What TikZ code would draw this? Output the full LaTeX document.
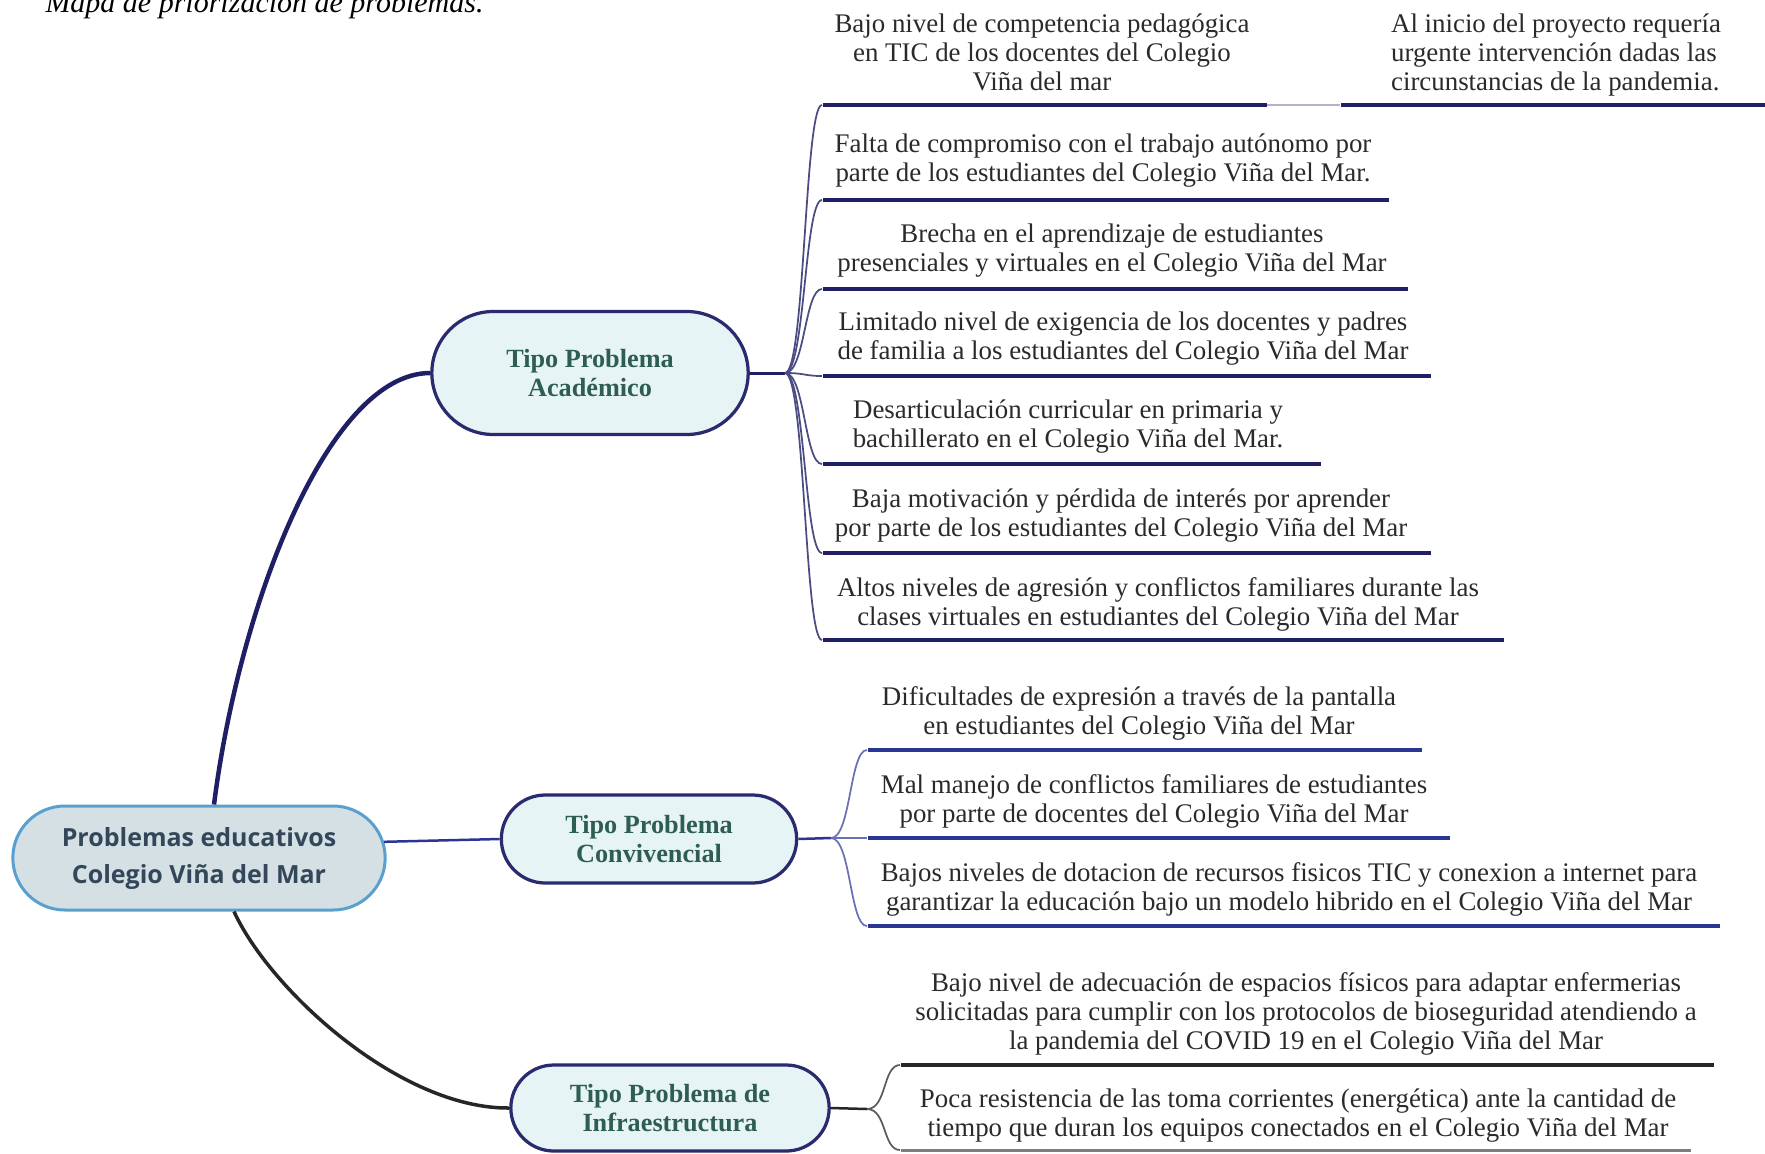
\documentclass[tikz,border=0pt]{standalone}
\usepackage{fontspec}
\setmainfont{Liberation Serif}
\newfontfamily\rootfont{Open Sans}
\usetikzlibrary{shapes.misc}
\definecolor{navy}{HTML}{1F1F66}
\definecolor{convblue}{HTML}{2B3593}
\definecolor{infragray}{HTML}{262626}
\definecolor{rootfill}{HTML}{D4E0E4}
\definecolor{rootline}{HTML}{5AA0CF}
\definecolor{catfill}{HTML}{E7F4F6}
\definecolor{catline}{HTML}{2A2A6E}
\definecolor{cattext}{HTML}{2D5E50}
\definecolor{roottext}{HTML}{34475A}
\definecolor{leaftext}{HTML}{2A2A2A}

\begin{document}
\begin{tikzpicture}[x=0.4pt,y=-0.4pt,
  root node/.style={rounded rectangle,draw=rootline,line width=1.2pt,fill=rootfill,text=roottext,align=center,font=\rootfont\bfseries\fontsize{10}{14.8}\selectfont},
  cat node/.style={rounded rectangle,draw=catline,line width=1.3pt,fill=catfill,text=cattext,align=center,font=\bfseries\fontsize{10.5}{11.6}\selectfont},
  leaf node/.style={align=center,inner sep=0pt,text=leaftext,font=\fontsize{10.75}{11.6}\selectfont},
  bar node/.style={anchor=west,inner sep=0pt,minimum height=1.6pt,fill=navy},
  twig/.style={out=0,in=180,out distance=8pt,in distance=7pt}]

  \useasboundingbox (0,0) rectangle (1765,1153);
  \clip (0,0) rectangle (1765,1153);

  \node[font=\itshape\fontsize{12}{14}\selectfont,anchor=base west,inner sep=0pt] (title) at (45,12.5) {Mapa de priorización de problemas.};

  \node[root node] (root) [minimum width=155.6pt,minimum height=41.6pt] at (199,858) {Problemas educativos\\Colegio Viña del Mar};
  \node[cat node] (aca) [minimum width=133.2pt,minimum height=49.2pt] at (590,373) {Tipo Problema\\Académico};
  \node[cat node] (conv) [minimum width=124.8pt,minimum height=35.2pt] at (649,839) {Tipo Problema\\Convivencial};
  \node[cat node] (infra) [minimum width=134pt,minimum height=34.4pt] at (670,1108) {Tipo Problema de\\Infraestructura};

  \node[leaf node] (a1t) at (1042,52) {Bajo nivel de competencia pedagógica\\en TIC de los docentes del Colegio\\Viña del mar};
  \node[leaf node,align=left] (a1bt) at (1556,55) {Al inicio del proyecto requería\\urgente intervención dadas las\\circunstancias de la pandemia.};
  \node[leaf node] (a2t) at (1103,161) {Falta de compromiso con el trabajo autónomo por\\parte de los estudiantes del Colegio Viña del Mar.};
  \node[leaf node] (a3t) at (1112,251) {Brecha en el aprendizaje de estudiantes\\presenciales y virtuales en el Colegio Viña del Mar};
  \node[leaf node] (a4t) at (1123,339) {Limitado nivel de exigencia de los docentes y padres\\de familia a los estudiantes del Colegio Viña del Mar};
  \node[leaf node] (a5t) at (1068,427) {Desarticulación curricular en primaria y\\bachillerato en el Colegio Viña del Mar.};
  \node[leaf node] (a6t) at (1121,516) {Baja motivación y pérdida de interés por aprender\\por parte de los estudiantes del Colegio Viña del Mar};
  \node[leaf node] (a7t) at (1158,604) {Altos niveles de agresión y conflictos familiares durante las\\clases virtuales en estudiantes del Colegio Viña del Mar};
  \node[leaf node] (c1t) at (1139,713) {Dificultades de expresión a través de la pantalla\\en estudiantes del Colegio Viña del Mar};
  \node[leaf node] (c2t) at (1154,801) {Mal manejo de conflictos familiares de estudiantes\\por parte de docentes del Colegio Viña del Mar};
  \node[leaf node] (c3t) at (1289,889) {Bajos niveles de dotacion de recursos fisicos TIC y conexion a internet para\\garantizar la educación bajo un modelo hibrido en el Colegio Viña del Mar};
  \node[leaf node] (i1t) at (1306,1014) {Bajo nivel de adecuación de espacios físicos para adaptar enfermerias\\solicitadas para cumplir con los protocolos de bioseguridad atendiendo a\\la pandemia del COVID 19 en el Colegio Viña del Mar};
  \node[leaf node] (i2t) at (1298,1116) {Poca resistencia de las toma corrientes (energética) ante la cantidad de\\tiempo que duran los equipos conectados en el Colegio Viña del Mar};

  \node[bar node] (a1) [minimum width=177.6pt] at (822,105) {};
  \node[bar node] (a1b) [minimum width=170pt] at (1340,105) {};
  \node[bar node] (a2) [minimum width=226.4pt] at (822,200) {};
  \node[bar node] (a3) [minimum width=234pt] at (822,289) {};
  \node[bar node] (a4) [minimum width=243.2pt] at (822,376) {};
  \node[bar node] (a5) [minimum width=199.2pt] at (822,464) {};
  \node[bar node] (a6) [minimum width=243.2pt] at (822,553) {};
  \node[bar node] (a7) [minimum width=272.4pt] at (822,640) {};
  \node[bar node] (c1) [minimum width=221.6pt,fill=convblue] at (867,750) {};
  \node[bar node] (c2) [minimum width=232.8pt,fill=convblue] at (867,838) {};
  \node[bar node] (c3) [minimum width=340.8pt,fill=convblue] at (867,926) {};
  \node[bar node] (i1) [minimum width=325.2pt,fill=infragray] at (900,1065) {};
  \node[bar node] (i2) [minimum width=316pt,minimum height=1.2pt,fill=infragray!60] at (900,1150) {};

  \coordinate (ab) at (785,373);
  \coordinate (cb) at (831,838);
  \coordinate (ib) at (867,1109);

  \draw[navy,line width=1.8pt] ([xshift=6pt]root.north) .. controls (240,600) and (330,373) .. (aca.west);
  \draw[convblue,line width=1pt] (root.5) -- (conv.west);
  \draw[infragray,line width=1.4pt] ([xshift=14pt]root.south) .. controls (270,990) and (400,1109) .. (infra.west);

  \draw[navy,line width=1.2pt] (aca.east) -- (ab);
  \draw[convblue,line width=1pt] (conv.east) -- (cb);
  \draw[infragray,line width=1pt] (infra.east) -- (ib);

  \path[navy!80,line width=0.7pt]
    (ab) edge[twig] (a1.west)
    (ab) edge[twig] (a2.west)
    (ab) edge[twig] (a3.west)
    (ab) edge[twig] (a4.west)
    (ab) edge[twig] (a5.west)
    (ab) edge[twig] (a6.west)
    (ab) edge[twig] (a7.west);
  \draw[navy!35,line width=0.8pt] (a1.east) -- (a1b.west);

  \path[convblue!70,line width=0.7pt]
    (cb) edge[twig] (c1.west)
    (cb) edge[twig] (c2.west)
    (cb) edge[twig] (c3.west);

  \path[infragray!75,line width=0.7pt]
    (ib) edge[twig] (i1.west)
    (ib) edge[twig] (i2.west);
\end{tikzpicture}
\end{document}
